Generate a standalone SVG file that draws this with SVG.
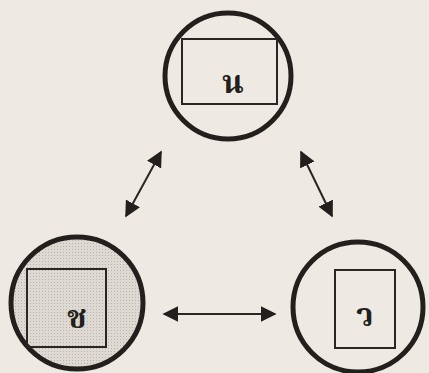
<svg xmlns="http://www.w3.org/2000/svg" width="429" height="373" viewBox="0 0 429 373">
<style>
.ring{fill:none;stroke:#231f1c;stroke-width:5}
.box{fill:none;stroke:#2a2623;stroke-width:2}
.lbl{font-family:"Noto Serif Thai","Noto Sans Thai","Loma","Garuda","DejaVu Sans",serif;font-size:32px;font-weight:bold;fill:#231f1c;text-anchor:middle}
.con{stroke:#2a2623;stroke-width:2;fill:none;marker-start:url(#ah);marker-end:url(#ah)}
</style>
<defs>
<pattern id="dots" width="3" height="3" patternUnits="userSpaceOnUse">
<rect width="3" height="3" fill="#dedad3"/>
<rect width="1" height="1" fill="#b9b4ad"/>
</pattern>
<marker id="ah" viewBox="0 0 10 10" refX="9" refY="5" markerWidth="8" markerHeight="8" orient="auto-start-reverse" markerUnits="strokeWidth">
<path d="M0,0 L10,5 L0,10 Z" fill="#231f1c"/>
</marker>
</defs>
<rect width="429" height="373" fill="#eeeae3"/>
<g id="node-top">
<circle class="ring" cx="228" cy="76" r="63" fill="#eeeae3"/>
<rect class="box" x="182" y="39" width="95" height="65"/>
<text class="lbl" x="233" y="93">น</text>
</g>
<g id="node-left">
<circle cx="77" cy="303" r="66" fill="url(#dots)" stroke="#231f1c" stroke-width="5"/>
<rect class="box" x="27" y="269" width="79" height="78"/>
<text class="lbl" x="77" y="328">ช</text>
</g>
<g id="node-right">
<circle class="ring" cx="358" cy="307" r="65"/>
<rect class="box" x="335" y="270" width="60" height="78"/>
<text class="lbl" x="365" y="326">ว</text>
</g>
<g id="connectors">
<line class="con" x1="161" y1="152" x2="126" y2="216"/>
<line class="con" x1="301" y1="152" x2="332" y2="216"/>
<line class="con" x1="164" y1="314" x2="275" y2="314"/>
</g>
</svg>
